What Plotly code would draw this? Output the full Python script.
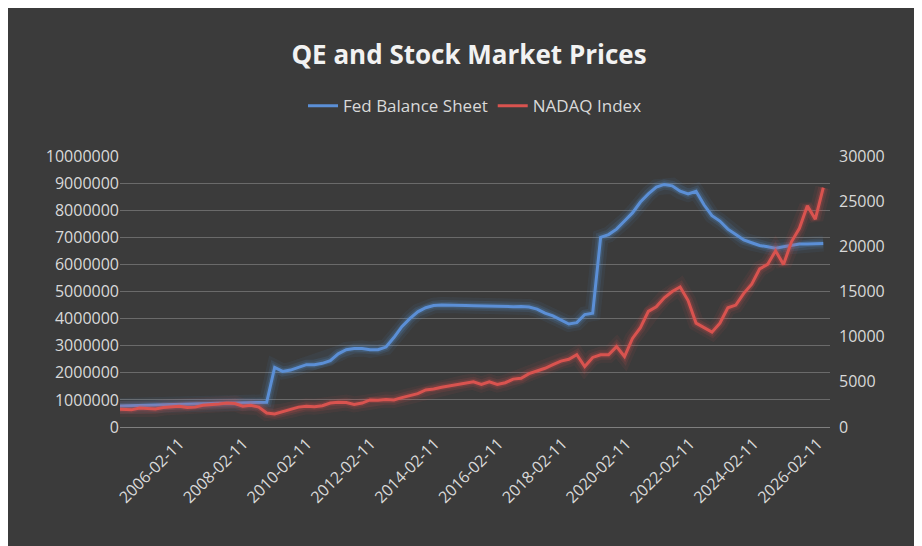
import pandas as pd
import plotly.graph_objects as go

# quarterly readings, 2004-02-11 onwards
dates = pd.date_range("2004-02-11", periods=90, freq="91D")

fed_balance = [
    770000, 780000, 790000, 800000, 810000, 820000, 830000, 840000,
    850000, 855000, 860000, 865000, 870000, 875000, 880000, 885000,
    890000, 895000, 900000, 910000, 2200000, 2050000, 2100000, 2200000,
    2300000, 2300000, 2350000, 2450000, 2700000, 2850000, 2900000, 2900000,
    2850000, 2850000, 2950000, 3300000, 3700000, 4000000, 4250000, 4400000,
    4480000, 4500000, 4500000, 4480000, 4480000, 4470000, 4460000, 4450000,
    4460000, 4450000, 4440000, 4450000, 4430000, 4350000, 4200000, 4100000,
    3950000, 3800000, 3850000, 4150000, 4200000, 7000000, 7100000, 7300000,
    7600000, 7900000, 8300000, 8600000, 8850000, 8950000, 8900000, 8700000,
    8600000, 8700000, 8200000, 7800000, 7600000, 7300000, 7100000, 6900000,
    6800000, 6700000, 6650000, 6600000, 6650000, 6700000, 6750000, 6750000,
    6760000, 6770000,
]

nasdaq = [
    2000, 1950, 1900, 2100, 2050, 2000, 2150, 2200, 2300, 2150,
    2200, 2400, 2450, 2550, 2650, 2600, 2300, 2400, 2200, 1550,
    1450, 1700, 1900, 2200, 2300, 2250, 2350, 2650, 2750, 2700,
    2500, 2650, 3000, 2950, 3050, 3000, 3250, 3450, 3700, 4100,
    4200, 4400, 4550, 4700, 4900, 5000, 4700, 5000, 4700, 4900,
    5300, 5400, 5900, 6200, 6500, 6900, 7300, 7500, 8000, 6700,
    7700, 8000, 8000, 8900, 7800, 9800, 11000, 12800, 13300, 14300,
    15000, 15500, 14000, 11500, 11000, 10500, 11500, 13200, 13500, 14800,
    15800, 17500, 18000, 19500, 18000, 20500, 22000, 24500, 23000, 26500,
]

tick_years = list(range(2004, 2027, 2))
tick_vals = [f"{y}-02-11" for y in tick_years]

fig = go.Figure()
# soft glow under each line
for w, a in [(16, 0.07), (10, 0.12), (6, 0.18)]:
    fig.add_trace(go.Scatter(x=dates, y=fed_balance, mode="lines", showlegend=False,
                             hoverinfo="skip", line=dict(color=f"rgba(91,155,230,{a})", width=w)))
    fig.add_trace(go.Scatter(x=dates, y=nasdaq, mode="lines", yaxis="y2", showlegend=False,
                             hoverinfo="skip", line=dict(color=f"rgba(230,80,80,{a})", width=w)))
fig.add_trace(go.Scatter(x=dates, y=fed_balance, mode="lines", name="Fed Balance Sheet",
                         line=dict(color="#5b8fd6", width=3)))
fig.add_trace(go.Scatter(x=dates, y=nasdaq, mode="lines", name="NADAQ Index", yaxis="y2",
                         line=dict(color="#d9534f", width=3)))

fig.update_layout(
    width=922, height=546,
    paper_bgcolor="#3b3b3b", plot_bgcolor="#3b3b3b",
    font=dict(family="Open Sans, Liberation Sans", color="#d9d9d9", size=16),
    title=dict(text="<b>QE and Stock Market Prices</b>", x=0.5, xanchor="center", y=0.93,
               font=dict(size=26, color="#f2f2f2")),
    legend=dict(orientation="h", x=0.5, xanchor="center", y=1.25, font=dict(size=17)),
    margin=dict(l=112, r=100, t=148, b=127),
    xaxis=dict(type="date", tickvals=tick_vals, ticktext=tick_vals, tickangle=-45,
               range=["2004-04-01", "2026-07-01"], showgrid=False,
               showline=True, linecolor="#7f7f7f"),
    yaxis=dict(range=[0, 10000000], dtick=1000000, tickformat="d", gridcolor="#6a6a6a",
               zeroline=False),
    yaxis2=dict(range=[0, 30000], dtick=5000, tickformat="d", overlaying="y", side="right",
                showgrid=False, zeroline=False, ticklabelstandoff=8),
)

fig.write_html("out.html")
